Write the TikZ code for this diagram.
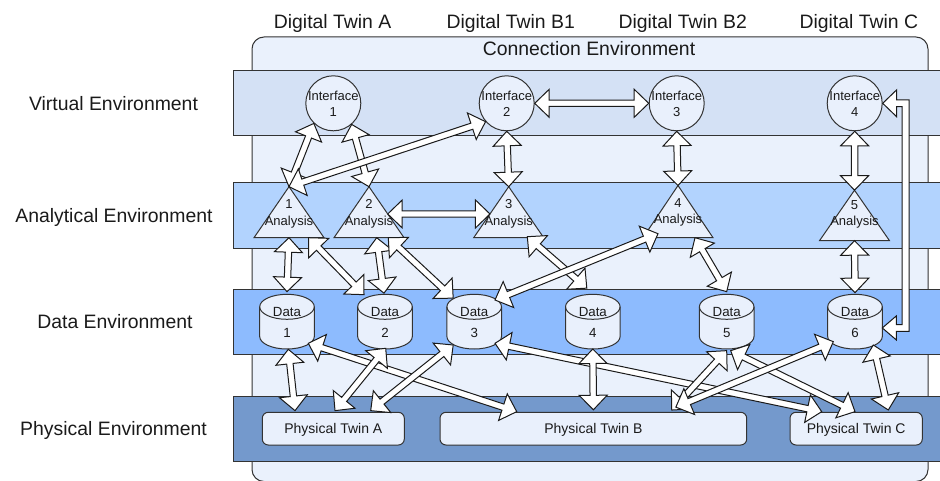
\documentclass[tikz,border=0pt]{standalone}
\usepackage{fontspec}
\setmainfont{Liberation Sans}
\usetikzlibrary{calc}

\definecolor{envfill}{HTML}{EAF1FC}
\definecolor{virt}{HTML}{D4E1F5}
\definecolor{anal}{HTML}{B2D3FE}
\definecolor{datab}{HTML}{8DBBFE}
\definecolor{phys}{HTML}{7499CC}
\definecolor{nodefill}{HTML}{E9F0FC}
\definecolor{ink}{HTML}{1A1A1A}
\definecolor{edgecol}{HTML}{333333}

% geometry of the double-headed block arrows
\newcommand\flexHL{14.5pt}
\newcommand\flexHW{14pt}
\newcommand\flexSW{3.2pt}

% double-headed block arrow between two points
\newcommand\flexarrow[2]{%
  \coordinate (fa) at (#1);
  \coordinate (fb) at (#2);
  \draw[flex] (fa)
    -- ($(fa)!\flexHL!(fb)!\flexHW!90:(fb)$)
    -- ($(fa)!\flexHL!(fb)!\flexSW!90:(fb)$)
    -- ($(fb)!\flexHL!(fa)!\flexSW!-90:(fa)$)
    -- ($(fb)!\flexHL!(fa)!\flexHW!-90:(fa)$)
    -- (fb)
    -- ($(fb)!\flexHL!(fa)!\flexHW!90:(fa)$)
    -- ($(fb)!\flexHL!(fa)!\flexSW!90:(fa)$)
    -- ($(fa)!\flexHL!(fb)!\flexSW!-90:(fb)$)
    -- ($(fa)!\flexHL!(fb)!\flexHW!-90:(fb)$)
    -- cycle;}

% analysis triangle: name, x, centre y, height, number
\newcommand\anatri[5]{%
  \node[frame, minimum width=70pt, minimum height=#4pt] (#1) at (#2,#3) {};
  \draw[shp] (#1.south west) -- (#1.north) -- (#1.south east) -- cycle;}

% data cylinder: name, x
\newcommand\datacyl[2]{%
  \node[frame, minimum width=54.6pt, minimum height=54.7pt] (#1) at (#2,321.65) {};
  \draw[shp] ($(#1.north west)+(0,12.5)$) -- ($(#1.south west)+(0,-12.5)$)
    arc[start angle=180, end angle=360, x radius=27.3pt, y radius=12.5pt]
    -- ($(#1.north east)+(0,12.5)$)
    arc[start angle=0, end angle=180, x radius=27.3pt, y radius=12.5pt] -- cycle;
  \draw[shp, fill=none] ($(#1.north west)+(0,12.5)$)
    arc[start angle=180, end angle=360, x radius=27.3pt, y radius=12.5pt];}

\tikzset{
  frame/.style={rectangle, draw=none, fill=none, inner sep=0pt, outer sep=0pt},
  shp/.style={draw=edgecol, fill=nodefill, line width=1pt},
  band/.style={rectangle, draw=edgecol, line width=1pt, inner sep=0pt, minimum width=712pt},
  envbox/.style={rectangle, rounded corners=12pt, draw=edgecol, fill=envfill, line width=1pt, inner sep=0pt},
  hdr/.style={font=\fontsize{19.4pt}{23pt}\selectfont, text=ink, inner sep=0pt, text height=13.9pt, text depth=0pt},
  lbl/.style={font=\fontsize{13pt}{16pt}\selectfont, text=ink, align=center, inner sep=0pt},
  iface/.style={circle, shp, minimum size=55pt, inner sep=0pt},
  ptwin/.style={rectangle, rounded corners=6pt, shp, minimum height=32.7pt, inner sep=0pt,
    font=\fontsize{14pt}{16pt}\selectfont, text=ink, text height=10pt, text depth=0pt},
  flex/.style={draw=ink, fill=white, line width=1pt, line join=miter},
}

\begin{document}
\begin{tikzpicture}[x=1pt, y=-1pt]
\useasboundingbox (0,0) rectangle (940,481);

% connection environment
\node[envbox, minimum width=676pt, minimum height=444.5pt] (conn) at (590,259.25) {};
\node[hdr] (conntitle) at (589,48.3) {Connection Environment};

% environment bands
\node[band, fill=virt, minimum height=65.3pt] (venv) at (589,103.35) {};
\node[band, fill=anal, minimum height=66pt] (aenv) at (589,215.3) {};
\node[band, fill=datab, minimum height=64.7pt] (denv) at (589,321.65) {};
\node[band, fill=phys, minimum height=65.7pt] (penv) at (589,428.85) {};

% column headings
\node[hdr] (h1) at (332.6,21.2) {Digital Twin A};
\node[hdr] (h2) at (510.7,21.2) {Digital Twin B1};
\node[hdr] (h3) at (682.7,21.2) {Digital Twin B2};
\node[hdr] (h4) at (858.8,21.2) {Digital Twin C};

% row headings
\node[hdr] (l1) at (113.5,103.3) {Virtual Environment};
\node[hdr] (l2) at (114,215.3) {Analytical Environment};
\node[hdr] (l3) at (115,321.65) {Data Environment};
\node[hdr] (l4) at (113.5,428.85) {Physical Environment};

% interfaces
\node[iface] (i1) at (333.3,103.3) {};
\node[iface] (i2) at (506.7,103.3) {};
\node[iface] (i3) at (676.7,103.3) {};
\node[iface] (i4) at (854.7,103.3) {};

% analyses
\anatri{a1}{289}{212.2}{51}{1}
\anatri{a2}{369}{212.2}{51}{2}
\anatri{a3}{508.7}{212.2}{51}{3}
\anatri{a4}{678}{211.6}{52.2}{4}
\anatri{a5}{854.5}{215.45}{50.5}{5}

% data stores
\datacyl{d1}{287}
\datacyl{d2}{385}
\datacyl{d3}{474.2}
\datacyl{d4}{592.8}
\datacyl{d5}{726.7}
\datacyl{d6}{855}

% physical twins
\node[ptwin, minimum width=142pt] (pa) at (333.3,428.65) {Physical Twin A};
\node[ptwin, minimum width=306.7pt] (pb) at (593.35,428.65) {Physical Twin B};
\node[ptwin, minimum width=132.3pt] (pc) at (856.15,428.65) {Physical Twin C};

% links between interfaces and analyses
\flexarrow{i1.-134}{a1.north}
\flexarrow{i1.-49}{a2.north}
\flexarrow{a1.north}{i2.-139}
\flexarrow{i2.south}{a3.north}
\flexarrow{i2.east}{i3.west}
\flexarrow{i3.south}{a4.north}
\flexarrow{i4.south}{a5.north}

% routed link from interface 4 down to data 6
\coordinate (r1) at (i4.east);
\coordinate (r2) at ($(d6.east)+(0,6.3)$);
\coordinate (bend) at (905.5,103.3);
\draw[flex] (r1) -- ($(r1)+(14,-13.5)$) -- ($(r1)+(14,-3.3)$) -- ($(bend)+(3.5,-3.3)$)
  -- ($(bend |- r2)+(3.5,3.3)$) -- ($(r2)+(14,3.3)$) -- ($(r2)+(14,12)$) -- (r2)
  -- ($(r2)+(14,-12)$) -- ($(r2)+(14,-3.3)$) -- ($(bend |- r2)+(-3.5,-3.3)$)
  -- ($(bend)+(-3.5,3.3)$) -- ($(r1)+(14,3.3)$) -- ($(r1)+(14,13.5)$) -- cycle;

% links between analyses and data
\flexarrow{$(a2.north)!0.535!(a2.south east)$}{$(a3.north)!0.535!(a3.south west)$}
\flexarrow{a1.south}{$(d1)+(0,-30)$}
\flexarrow{$(a1.south west)!0.78!(a1.south east)$}{$(d2)+(-21,-27)$}
\flexarrow{$(a2.south west)!0.61!(a2.south east)$}{$(d2)+(-1,-28.5)$}
\flexarrow{$(a2.south west)!0.776!(a2.south east)$}{$(d3)+(-21,-23.5)$}
\flexarrow{$(a3.south west)!0.766!(a3.south east)+(0,-1)$}{$(d4)+(-6,-33.5)$}
\flexarrow{$(a4.south)+(-20,-4)$}{$(d3)+(20.8,-21.65)$}
\flexarrow{$(a4.south)+(17,0)$}{$(d5)+(0,-30)$}
\flexarrow{a5.south}{$(d6)+(0,-29)$}

% links between data and physical twins
\flexarrow{$(d1)+(1.3,27.7)$}{$(pa)+(-38.3,-18)$}
\flexarrow{$(d1)+(21.3,21.65)$}{$(pb)+(-76.65,-17)$}
\flexarrow{$(d2)+(0.7,26.65)$}{$(pa)+(1.7,-18)$}
\flexarrow{$(d3)+(-21,23.35)$}{$(pa)+(37.4,-18)$}
\flexarrow{$(d3)+(20.8,21.65)$}{$(pc)+(-34.45,-17)$}
\flexarrow{d4.south}{$(pb.north)+(0,-2)$}
\flexarrow{$(d5)+(0,29)$}{$(pb)+(78.4,-18.6)$}
\flexarrow{$(d5)+(4,29)$}{$(pc)+(-1.15,-17)$}
\flexarrow{$(d6)+(-21.7,20)$}{$(pb)+(82.5,-21.5)$}
\flexarrow{$(d6)+(18.3,23.35)$}{$(pc)+(32.15,-18.65)$}

% labels inside the shapes
\node[lbl] (i1t) at (333.3,103.7) {Interface\\1};
\node[lbl] (i2t) at (506.7,103.7) {Interface\\2};
\node[lbl] (i3t) at (676.7,103.7) {Interface\\3};
\node[lbl] (i4t) at (854.7,103.7) {Interface\\4};
\node[lbl, font=\fontsize{13pt}{16.5pt}\selectfont] (a1t) at ($(a1)+(0,1.8)$) {1\\Analysis};
\node[lbl, font=\fontsize{13pt}{16.5pt}\selectfont] (a2t) at ($(a2)+(0,1.8)$) {2\\Analysis};
\node[lbl, font=\fontsize{13pt}{16.5pt}\selectfont] (a3t) at ($(a3)+(0,1.8)$) {3\\Analysis};
\node[lbl, font=\fontsize{13pt}{16.5pt}\selectfont] (a4t) at ($(a4)+(0,1)$) {4\\Analysis};
\node[lbl, font=\fontsize{13pt}{16.5pt}\selectfont] (a5t) at ($(a5)+(0,-1)$) {5\\Analysis};
\node[lbl, font=\fontsize{13.3pt}{20.4pt}\selectfont] (d1t) at ($(d1)+(0,0.85)$) {Data\\1};
\node[lbl, font=\fontsize{13.3pt}{20.4pt}\selectfont] (d2t) at ($(d2)+(0,0.85)$) {Data\\2};
\node[lbl, font=\fontsize{13.3pt}{20.4pt}\selectfont] (d3t) at ($(d3)+(0,0.85)$) {Data\\3};
\node[lbl, font=\fontsize{13.3pt}{20.4pt}\selectfont] (d4t) at ($(d4)+(0,0.85)$) {Data\\4};
\node[lbl, font=\fontsize{13.3pt}{20.4pt}\selectfont] (d5t) at ($(d5)+(0,0.85)$) {Data\\5};
\node[lbl, font=\fontsize{13.3pt}{20.4pt}\selectfont] (d6t) at ($(d6)+(0,0.85)$) {Data\\6};
\end{tikzpicture}
\end{document}
